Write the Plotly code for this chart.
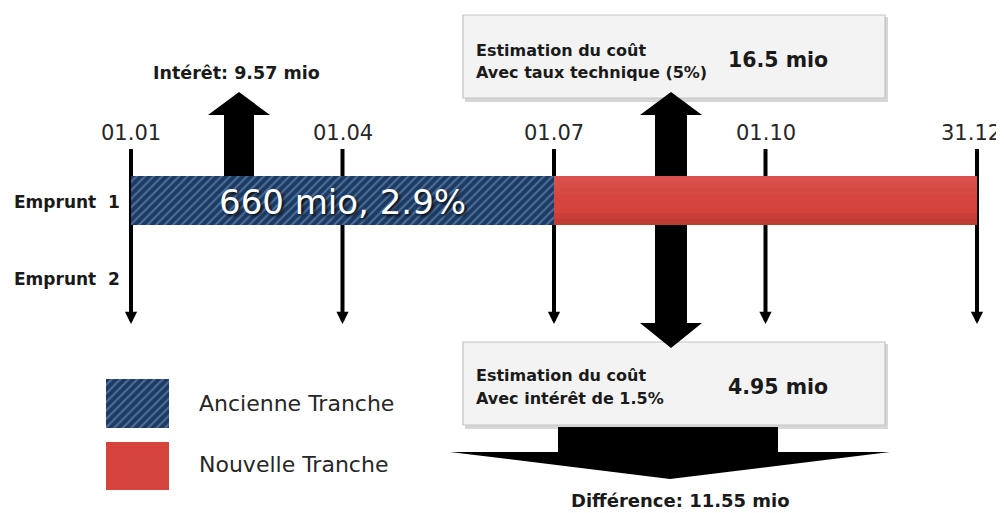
import plotly.graph_objects as go

# ---------------- data ----------------
tick_labels = ["01.01", "01.04", "01.07", "01.10", "31.12"]
tick_months = [0, 3, 6, 9, 12]

loans = ["Emprunt\u00a0 1", "Emprunt\u00a0 2"]

tranche_names = ["Ancienne Tranche", "Nouvelle Tranche"]
tranche_start = [0, 6]
tranche_end = [6, 12]
tranche_label = "660 mio, 2.9%"

interest_label = "Intérêt: 9.57 mio"
box_top_lines = ["Estimation du coût", "Avec taux technique (5%)"]
box_top_value = "16.5 mio"
box_bot_lines = ["Estimation du coût", "Avec intérêt de 1.5%"]
box_bot_value = "4.95 mio"
difference_label = "Différence: 11.55 mio"

# ---------------- styling / layout helpers ----------------
W, H = 1004, 513
OFF = 8                                     # page body margin
X0_PX, PX_PER_MONTH = 131, 70.5             # month axis placement
ROW_Y = [200.5, 278]                        # loan rows (pixel units on y)
BAR_W = 49
BLUE_BG, BLUE_FG = "#1d3a62", "#7ea3d0"
RED = "#d5433d"
BOLD = "DejaVu Sans"
TXT = "#1a1a1a"

fig = go.Figure()

# bars (month axis)
fig.add_trace(go.Bar(
    y=[ROW_Y[0]], x=[tranche_end[0] - tranche_start[0]], base=[tranche_start[0]],
    orientation="h", width=BAR_W, name=tranche_names[0],
    marker=dict(color=BLUE_BG, line=dict(width=0),
                pattern=dict(shape="/", bgcolor=BLUE_BG, fgcolor=BLUE_FG,
                             size=6, solidity=0.35, fillmode="overlay")),
    showlegend=False, hoverinfo="skip"))
fig.add_trace(go.Bar(
    y=[ROW_Y[0]], x=[tranche_end[1] - tranche_start[1]], base=[tranche_start[1]],
    orientation="h", width=BAR_W, name=tranche_names[1],
    marker=dict(color=RED, line=dict(width=0)),
    showlegend=False, hoverinfo="skip"))
# subtle gradient bands on the red bar
for k, a in enumerate([0.08, 0.06, 0.04, 0.02]):
    fig.add_trace(go.Bar(
        y=[ROW_Y[0] - BAR_W / 2 + 3 + k * 6], x=[tranche_end[1] - tranche_start[1]],
        base=[tranche_start[1]], orientation="h", width=6,
        marker=dict(color=f"rgba(255,255,255,{a})", line=dict(width=0)),
        showlegend=False, hoverinfo="skip"))
for k, a in enumerate([0.10, 0.06]):
    fig.add_trace(go.Bar(
        y=[ROW_Y[0] + BAR_W / 2 - 3 - k * 6], x=[tranche_end[1] - tranche_start[1]],
        base=[tranche_start[1]], orientation="h", width=6,
        marker=dict(color=f"rgba(0,0,0,{a})", line=dict(width=0)),
        showlegend=False, hoverinfo="skip"))

# legend swatches (pixel axis)
fig.add_trace(go.Bar(
    y=[403.5], x=[63], base=[106], orientation="h", width=49, xaxis="x2",
    marker=dict(color=BLUE_BG, line=dict(width=0),
                pattern=dict(shape="/", bgcolor=BLUE_BG, fgcolor=BLUE_FG,
                             size=6, solidity=0.35, fillmode="overlay")),
    showlegend=False, hoverinfo="skip"))
fig.add_trace(go.Bar(
    y=[466], x=[63], base=[106], orientation="h", width=48, xaxis="x2",
    marker=dict(color=RED, line=dict(width=0)),
    showlegend=False, hoverinfo="skip"))

shapes = []
annotations = []

# boxes with shadow
for (x0, y0, x1, y1) in [(463, 15, 885, 98), (463, 342, 885, 425)]:
    shapes.append(dict(type="rect", xref="x2", yref="y", x0=x0 + 2, y0=y0 + 2, x1=x1 + 3, y1=y1 + 4,
                       fillcolor="#d6d6d6", line=dict(width=0), layer="below"))
    shapes.append(dict(type="rect", xref="x2", yref="y", x0=x0, y0=y0, x1=x1, y1=y1,
                       fillcolor="#f3f3f3", line=dict(color="#c4c4c4", width=1.2), layer="below"))

# vertical date lines
for i, (m, lab) in enumerate(zip(tick_months, tick_labels)):
    shapes.append(dict(type="line", xref="x", yref="y", x0=m, x1=m, y0=149, y1=318,
                       line=dict(color="black", width=4), layer="below"))
    annotations.append(dict(x=m, y=324, ax=m, ay=312, xref="x", yref="y", axref="x", ayref="y",
                            showarrow=True, arrowhead=2, arrowsize=0.7, arrowwidth=3.5,
                            arrowcolor="black", text=""))
    last = i == len(tick_months) - 1
    annotations.append(dict(x=m, y=133, xref="x", yref="y", text=lab,
                            xshift=-6 if last else 0,
                            showarrow=False, font=dict(family="DejaVu Sans", size=21, color="#262626")))

# up arrow (interest)
shapes.append(dict(type="path", xref="x2", yref="y", layer="below",
                   path="M224,177 L224,115 L208,115 L239,92 L270,115 L254,115 L254,177 Z",
                   fillcolor="black", line=dict(width=0)))
# double arrow
shapes.append(dict(type="path", xref="x2", yref="y", layer="below",
                   path="M655,115 L640,115 L671,92 L702,115 L687,115 L687,323 L702,323 L671,348 "
                        "L640,323 L655,323 Z",
                   fillcolor="black", line=dict(width=0)))
# chevron
shapes.append(dict(type="path", xref="x2", yref="y", layer="below",
                   path="M558,427 L778,427 L778,452 L890,452 L670,479 L450,452 L558,452 Z",
                   fillcolor="black", line=dict(width=0)))

# texts
annotations.append(dict(x=236, y=73, xref="x2", yref="y", text=f"<b>{interest_label}</b>",
                        showarrow=False, font=dict(family=BOLD, size=17.5, color=TXT)))
for i, name in enumerate(loans):
    annotations.append(dict(x=12, y=ROW_Y[i] + 1, xref="x2", yref="y", text=f"<b>{name}</b>",
                            xanchor="left", showarrow=False, font=dict(family=BOLD, size=17, color=TXT)))
annotations.append(dict(x=(tranche_start[0] + tranche_end[0]) / 2, y=202, xref="x", yref="y",
                        text=tranche_label, showarrow=False,
                        font=dict(family="DejaVu Sans", size=34, color="white",
                                  shadow="2px 2px 3px rgba(0,0,0,0.8)")))
for lines, value, ys, vy in [(box_top_lines, box_top_value, (50, 72), 60),
                             (box_bot_lines, box_bot_value, (375, 398), 387)]:
    for t, yy in zip(lines, ys):
        annotations.append(dict(x=474, y=yy, xref="x2", yref="y", text=f"<b>{t}</b>", xanchor="left",
                                showarrow=False, font=dict(family=BOLD, size=16, color=TXT)))
    annotations.append(dict(x=778, y=vy, xref="x2", yref="y", text=f"<b>{value}</b>",
                            showarrow=False, font=dict(family=BOLD, size=20.5, color=TXT)))
annotations.append(dict(x=680, y=500, xref="x2", yref="y", text=f"<b>{difference_label}</b>",
                        showarrow=False, font=dict(family=BOLD, size=18, color=TXT)))
for name, yy in zip(tranche_names, [403, 464]):
    annotations.append(dict(x=197, y=yy, xref="x2", yref="y", text=name, xanchor="left",
                            showarrow=False, font=dict(family="DejaVu Sans", size=22, color="#262626")))

fig.update_layout(
    width=W - OFF, height=H - OFF, margin=dict(l=0, r=0, t=0, b=0),
    paper_bgcolor="white", plot_bgcolor="white", barmode="overlay",
    xaxis=dict(range=[(OFF - X0_PX) / PX_PER_MONTH, (W - X0_PX) / PX_PER_MONTH],
               visible=False, fixedrange=True),
    xaxis2=dict(range=[OFF, W], overlaying="x", visible=False, fixedrange=True),
    yaxis=dict(range=[H, OFF], visible=False, fixedrange=True),
    shapes=shapes, annotations=annotations, showlegend=False,
)

fig.write_html("out.html")
